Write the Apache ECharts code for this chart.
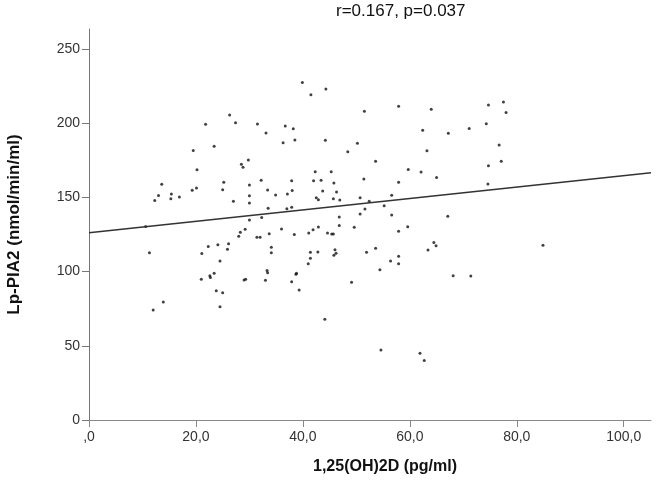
<!DOCTYPE html>
<html>
<head>
<meta charset="utf-8">
<script src="https://cdn.jsdelivr.net/npm/echarts@6/dist/echarts.min.js"></script>
<style>
  html, body { margin: 0; padding: 0; background: #fff; }
  #chart { width: 656px; height: 494px; }
</style>
</head>
<body>
<div id="chart"></div>
<script>
// 1,25(OH)2D (pg/ml) vs Lp-PLA2 (nmol/min/ml)
const vitD = [
  39.9, 44.3, 41.5, 57.9, 51.5, 26.3, 27.4, 21.8, 31.5, 36.7,
  38.2, 33.1, 23.4, 19.5, 36.3, 38.5, 44.2, 50.2, 48.4, 29.8,
  28.5, 28.8, 20.2, 42.3, 45.3, 32.2, 37.9, 42.0, 43.4, 51.4,
  57.9, 45.8, 25.2, 13.6, 30.0, 25.0, 20.1, 19.3, 15.4, 13.0,
  30.0, 16.9, 15.3, 12.3, 27.0, 30.0, 33.4, 38.0, 43.7, 46.3,
  34.9, 37.1, 56.6, 50.7, 42.5, 42.9, 45.7, 46.9, 52.4, 55.2,
  37.9, 37.0, 33.5, 51.6, 50.7, 56.6, 46.8, 32.3, 30.0, 29.2,
  28.3, 10.6, 57.9, 46.8, 49.6, 42.9, 41.9, 41.1, 36.0, 33.7,
  38.4, 44.6, 45.4, 45.7, 77.5, 74.7, 78.0, 64.0, 74.3, 71.1,
  62.4, 67.2, 76.7, 63.2, 77.1, 74.7, 59.7, 62.1, 65.0, 74.6,
  67.1, 59.6, 53.6, 28.0, 26.1, 24.1, 22.3, 25.9, 11.3, 21.1,
  24.5, 23.4, 22.6, 22.7, 21.0, 29.0, 29.3, 23.8, 25.0, 13.9,
  12.0, 24.5, 31.4, 32.0, 34.1, 34.1, 33.3, 33.4, 33.0, 41.4,
  41.4, 42.8, 41.0, 38.8, 38.7, 37.9, 39.3, 46.0, 46.2, 45.8,
  44.1, 49.1, 51.9, 53.6, 54.4, 56.4, 57.9, 57.9, 54.6, 64.5,
  64.9, 63.4, 68.1, 71.4, 84.9, 61.9, 62.7
];
const lpPla2 = [
  227.4, 223.0, 219.2, 211.4, 208.0, 205.5, 200.3, 199.3, 199.5, 198.1,
  196.3, 193.4, 184.4, 181.7, 186.9, 188.7, 188.5, 186.5, 180.8, 175.2,
  172.3, 170.3, 168.7, 167.3, 167.3, 161.5, 161.3, 161.3, 161.5, 162.4,
  160.2, 159.7, 160.2, 158.8, 158.4, 155.2, 156.3, 154.8, 152.3, 151.3,
  151.1, 150.3, 149.1, 147.9, 147.4, 146.2, 155.0, 154.6, 154.3, 153.6,
  151.6, 152.3, 151.5, 149.8, 149.8, 148.5, 149.1, 148.2, 147.4, 144.4,
  143.4, 142.4, 142.7, 142.2, 138.9, 138.1, 136.8, 136.5, 134.8, 128.5,
  126.5, 130.4, 127.2, 131.1, 129.9, 130.1, 128.2, 126.0, 128.7, 125.5,
  125.0, 126.0, 125.3, 125.3, 214.3, 212.3, 207.2, 209.4, 199.7, 196.4,
  195.3, 193.3, 185.3, 181.4, 174.3, 171.3, 168.8, 167.1, 163.5, 159.0,
  137.3, 130.3, 174.3, 123.9, 118.8, 118.1, 116.9, 115.0, 112.7, 112.2,
  107.1, 98.9, 97.2, 96.0, 94.8, 94.3, 94.8, 87.1, 85.8, 79.5,
  74.1, 76.3, 123.1, 123.1, 116.4, 112.7, 100.7, 99.3, 94.1, 113.0,
  109.0, 113.2, 105.3, 98.9, 98.2, 93.1, 87.6, 114.7, 112.4, 111.1,
  67.9, 92.8, 113.0, 115.7, 101.3, 107.1, 110.3, 105.3, 47.2, 119.6,
  117.5, 114.6, 97.2, 97.0, 117.7, 44.9, 40.1
];

// fit line as drawn
const fitIntercept = 126.2;
const fitSlope = 0.384;

const xTicks = [0, 20, 40, 60, 80, 100];
const yTicks = [0, 50, 100, 150, 200, 250];
const xMax = 105.1;
const yMax = 263.5;

const points = vitD.map((x, i) => [x, lpPla2[i]]);
const fitLine = [[0, fitIntercept], [xMax, fitIntercept + fitSlope * xMax]];

const chart = echarts.init(document.getElementById('chart'));

chart.setOption({
  animation: false,
  textStyle: { fontFamily: 'Liberation Sans, Arial, sans-serif' },
  grid: { left: 89, right: 5, top: 29, bottom: 74, containLabel: false, outerBoundsMode: 'none' },
  graphic: [{
    type: 'text',
    left: 336,
    top: 3,
    style: {
      text: 'r=0.167, p=0.037',
      fontSize: 17,
      fontFamily: 'Liberation Sans, Arial, sans-serif',
      fill: '#111'
    }
  }],
  xAxis: {
    type: 'value',
    min: 0,
    max: xMax,
    interval: 20,
    name: '1,25(OH)2D (pg/ml)',
    nameLocation: 'middle',
    nameGap: 39,
    nameTextStyle: { fontSize: 16, fontWeight: 'bold', color: '#111', padding: [0, 0, 0, 30] },
    axisLine: { lineStyle: { color: '#888', width: 1 } },
    axisTick: { length: 7, lineStyle: { color: '#888' }, customValues: xTicks },
    axisLabel: {
      customValues: xTicks,
      fontSize: 14,
      color: '#333',
      margin: 10,
      formatter: v => (v === 0 ? ',0' : v.toFixed(1).replace('.', ','))
    },
    splitLine: { show: false }
  },
  yAxis: {
    type: 'value',
    min: 0,
    max: yMax,
    interval: 50,
    name: 'Lp-PIA2 (nmol/min/ml)',
    nameLocation: 'middle',
    nameGap: 66,
    nameTextStyle: { fontSize: 17, fontWeight: 'bold', color: '#111' },
    axisLine: { show: true, lineStyle: { color: '#777', width: 1 } },
    axisTick: { show: true, length: 7, lineStyle: { color: '#777' }, customValues: yTicks },
    axisLabel: { customValues: yTicks, fontSize: 14, color: '#333', margin: 9 },
    splitLine: { show: false }
  },
  series: [
    {
      type: 'scatter',
      data: points,
      symbol: 'circle',
      symbolSize: 3,
      itemStyle: { color: '#111' },
      silent: true
    },
    {
      type: 'line',
      data: fitLine,
      showSymbol: false,
      lineStyle: { color: '#333', width: 1.5 },
      silent: true
    }
  ]
});
</script>
</body>
</html>
